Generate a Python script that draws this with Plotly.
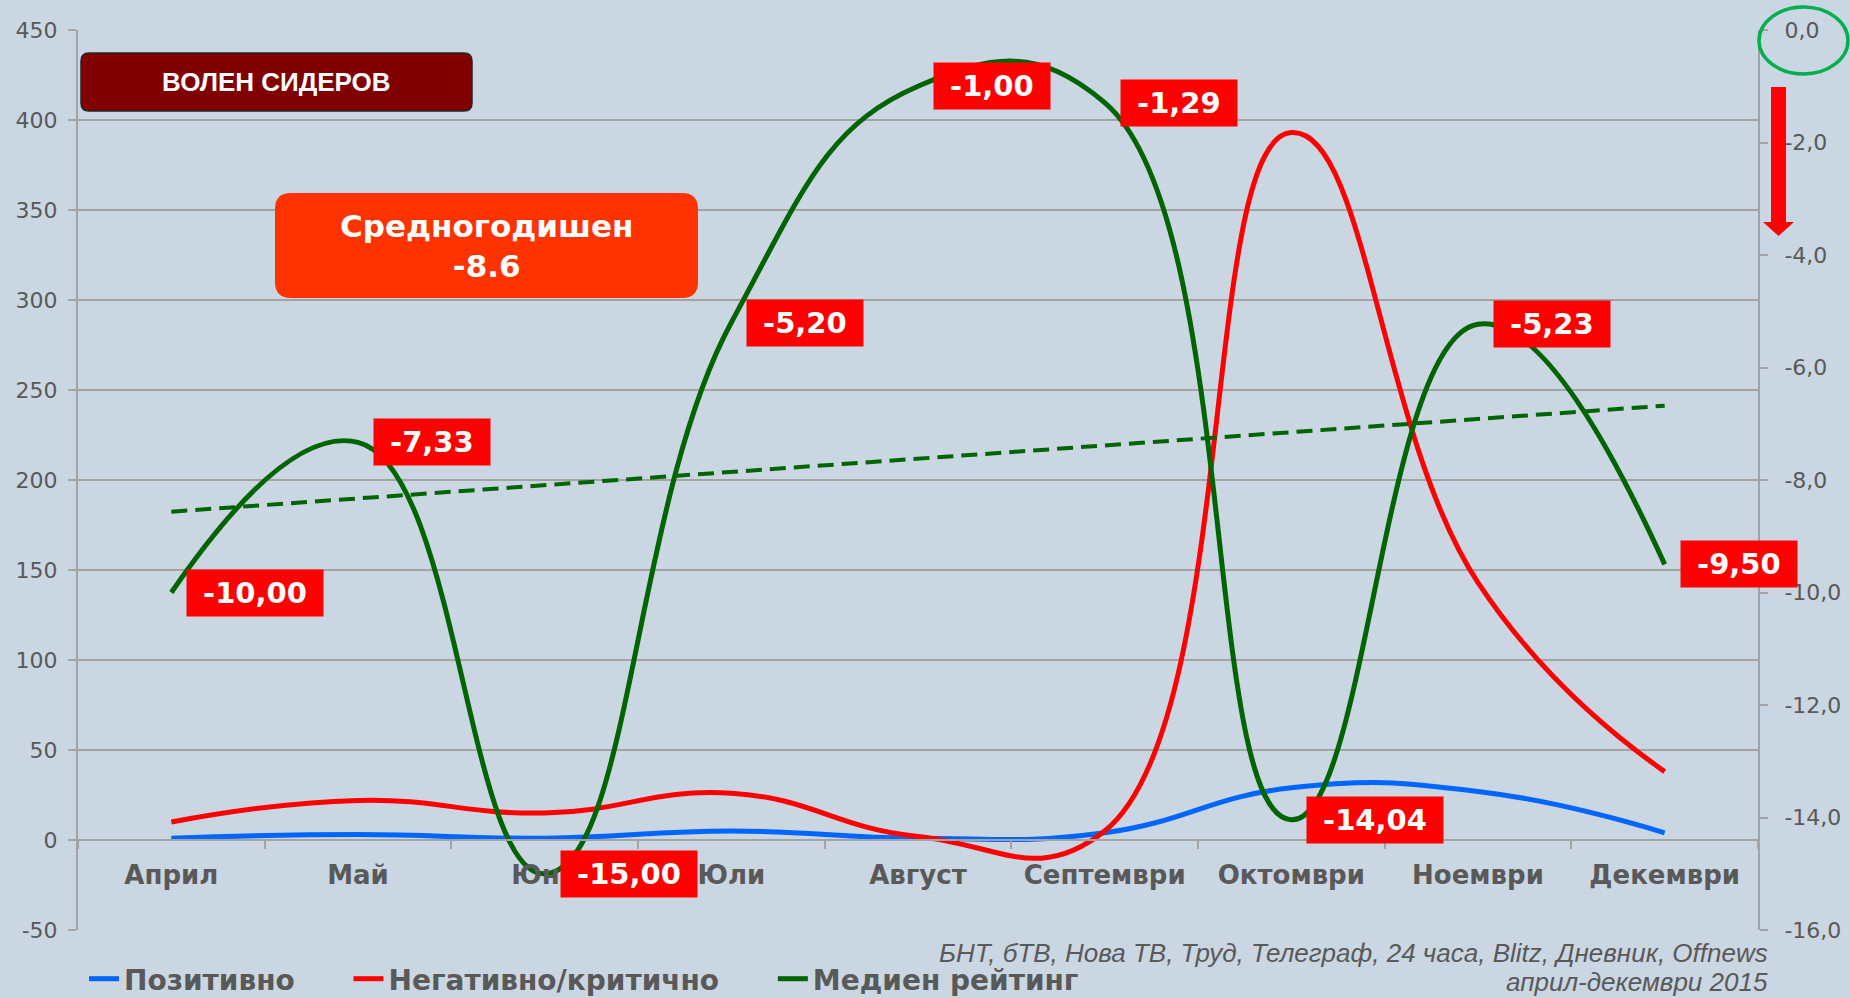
import numpy as np
import plotly.graph_objects as go

# ---------------- data ----------------
months = ["Април", "Май", "Юни", "Юли", "Август", "Септември", "Октомври", "Ноември", "Декември"]
positive = [1, 3, 1, 5, 1, 4, 29, 27, 4]
negative = [10, 22, 15, 26, 2, 5, 393, 143, 38]
media_rating = [-10.00, -7.33, -15.00, -5.20, -1.00, -1.29, -14.04, -5.23, -9.50]

series_names = ["Позитивно", "Негативно/критично", "Медиен рейтинг"]

left_ticks = [-50, 0, 50, 100, 150, 200, 250, 300, 350, 400, 450]
left_tick_labels = ["-50", "0", "50", "100", "150", "200", "250", "300", "350", "400", "450"]
right_ticks = [0, -2, -4, -6, -8, -10, -12, -14, -16]
right_tick_labels = ["0,0", "-2,0", "-4,0", "-6,0", "-8,0", "-10,0", "-12,0", "-14,0", "-16,0"]

title_text = "ВОЛЕН СИДЕРОВ"
average_text = "Средногодишен<br>-8.6"
source_lines = ["БНТ, бТВ, Нова ТВ, Труд, Телеграф, 24 часа, Blitz, Дневник, Offnews",
                "април-декември 2015"]

# ---------------- styles / geometry ----------------
W, H = 1850, 998
L, R, T, B = 78, 92, 30, 68
PW, PH = W - L - R, H - T - B
BG = "#cad6e2"
GRID = "#a3a3a3"
TXT = "#595959"
BLUE, RED, GREEN = "#0066ff", "#ff0000", "#006400"
SMOOTH = 1.3
LEGEND_PAD = "\u00a0" * 5  # extra room between legend entries


def px(xp):
    return (xp - L) / PW


def py(yp):
    return (H - B - yp) / PH


def rounded_rect(x0, y0, x1, y1, r):
    rx, ry = r / PW, r / PH
    X0, X1, Y0, Y1 = px(x0), px(x1), py(y0), py(y1)  # Y0 top, Y1 bottom
    return (f"M{X0+rx},{Y0} L{X1-rx},{Y0} Q{X1},{Y0} {X1},{Y0-ry} "
            f"L{X1},{Y1+ry} Q{X1},{Y1} {X1-rx},{Y1} L{X0+rx},{Y1} "
            f"Q{X0},{Y1} {X0},{Y1+ry} L{X0},{Y0-ry} Q{X0},{Y0} {X0+rx},{Y0} Z")


# trend line of the media rating (least squares)
xs = np.arange(len(months))
slope, intercept = np.polyfit(xs, media_rating, 1)
trend = intercept + slope * xs

fig = go.Figure()
fig.add_trace(go.Scatter(x=months, y=positive, name=series_names[0] + LEGEND_PAD, mode="lines",
                         line=dict(color=BLUE, width=5, shape="spline", smoothing=SMOOTH)))
fig.add_trace(go.Scatter(x=months, y=negative, name=series_names[1] + LEGEND_PAD, mode="lines",
                         line=dict(color=RED, width=5, shape="spline", smoothing=SMOOTH)))
fig.add_trace(go.Scatter(x=months, y=media_rating, name=series_names[2], mode="lines",
                         yaxis="y2",
                         line=dict(color=GREEN, width=5, shape="spline", smoothing=SMOOTH)))
fig.add_trace(go.Scatter(x=months, y=trend, mode="lines", yaxis="y2", showlegend=False,
                         line=dict(color=GREEN, width=4, dash="16px,8px")))

annotations = []
for m, v in zip(months, media_rating):
    label = f"{v:.2f}".replace(".", ",")
    annotations.append(dict(
        x=m, y=v, xref="x", yref="y2", xanchor="left", yanchor="middle", xshift=15,
        text="\u00a0" + label + "\u00a0", showarrow=False, bgcolor=RED, borderpad=6,
        font=dict(family="DejaVu Sans", size=29, color="white", weight="bold")))

# title box text
annotations.append(dict(x=px(276.5), y=py(82), xref="paper", yref="paper",
                        xanchor="center", yanchor="middle", showarrow=False,
                        text=f"<b>{title_text}</b>",
                        font=dict(family="Liberation Sans, Arial", size=26, color="white")))
# average box text
annotations.append(dict(x=px(486.5), y=py(246), xref="paper", yref="paper",
                        xanchor="center", yanchor="middle", showarrow=False,
                        text=f"<b>{average_text}</b>",
                        font=dict(family="DejaVu Sans", size=31, color="white")))
# source text
for s, yp in zip(source_lines, [953, 982]):
    annotations.append(dict(x=px(1770), y=py(yp), xref="paper", yref="paper",
                            xanchor="right", yanchor="middle", showarrow=False,
                            text=f"<i>{s}</i>",
                            font=dict(family="Liberation Sans, Arial", size=26, color=TXT)))

shapes = [
    dict(type="path", xref="paper", yref="paper", path=rounded_rect(81, 53, 472, 111, 8),
         fillcolor="#800000", line=dict(color="#262626", width=1.5), layer="above"),
    dict(type="path", xref="paper", yref="paper", path=rounded_rect(275, 193, 698, 298, 16),
         fillcolor="#ff3300", line=dict(width=0), layer="above"),
    dict(type="circle", xref="paper", yref="paper", x0=px(1759), x1=px(1848),
         y0=py(7), y1=py(74), line=dict(color="#00b050", width=3.5), layer="above"),
    dict(type="path", xref="paper", yref="paper",
         path=(f"M{px(1771)},{py(87)} L{px(1786)},{py(87)} L{px(1786)},{py(222)} "
               f"L{px(1794)},{py(222)} L{px(1778.5)},{py(236)} L{px(1763)},{py(222)} "
               f"L{px(1771)},{py(222)} Z"),
         fillcolor="#ff0000", line=dict(width=0), layer="above"),
]

fig.update_layout(
    width=W, height=H,
    margin=dict(l=L, r=R, t=T, b=B, autoexpand=False),
    paper_bgcolor=BG, plot_bgcolor=BG,
    showlegend=True,
    legend=dict(orientation="h", xref="container", x=84 / W, xanchor="left",
                yref="container", y=1 - 979 / H, yanchor="middle",
                font=dict(family="DejaVu Sans", size=28, color=TXT, weight="bold"),
                bgcolor="rgba(0,0,0,0)", itemwidth=30),
    hovermode=False,
    xaxis=dict(type="category", range=[-0.5, len(months) - 0.5], anchor="free",
               position=(0 - left_ticks[0]) / (left_ticks[-1] - left_ticks[0]),
               tickson="boundaries", ticks="outside", ticklen=8, tickwidth=2, tickcolor=GRID,
               showline=True, linecolor=GRID, linewidth=2, showgrid=False,
               tickfont=dict(family="DejaVu Sans", size=26, color=TXT, weight="bold"),
               ticklabelstandoff=12),
    yaxis=dict(range=[left_ticks[0], left_ticks[-1]], tickvals=left_ticks, ticktext=left_tick_labels,
               showgrid=True, gridcolor=GRID, gridwidth=2, zeroline=False,
               showline=True, linecolor=GRID, linewidth=2,
               ticks="outside", ticklen=8, tickwidth=2, tickcolor=GRID,
               tickfont=dict(family="DejaVu Sans", size=22, color=TXT), ticklabelstandoff=6),
    yaxis2=dict(range=[right_ticks[-1], right_ticks[0]], tickvals=right_ticks, ticktext=right_tick_labels,
                overlaying="y", side="right", showgrid=False, zeroline=False,
                showline=True, linecolor=GRID, linewidth=2,
                ticks="outside", ticklen=8, tickwidth=2, tickcolor=GRID,
                tickfont=dict(family="DejaVu Sans", size=22, color=TXT), ticklabelstandoff=12),
    annotations=annotations,
    shapes=shapes,
)

fig.write_html("out.html", config={"displayModeBar": False},
               post_script="document.body.style.margin='0';document.body.style.overflow='hidden';")
